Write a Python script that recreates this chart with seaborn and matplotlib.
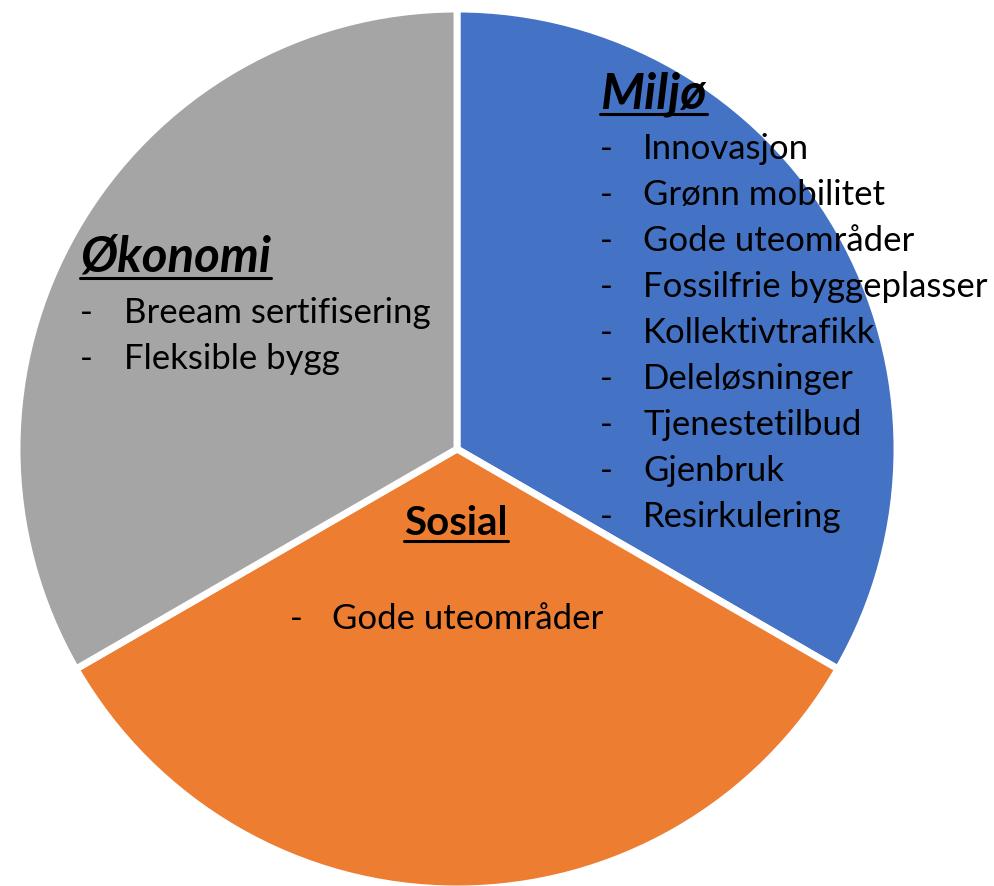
import matplotlib
matplotlib.use("Agg")
import matplotlib.pyplot as plt
import seaborn as sns
from matplotlib.lines import Line2D

sns.set_style("white")
plt.rcParams['font.family'] = ['Lato', 'DejaVu Sans']
plt.rcParams['text.color'] = 'black'

categories = ['Miljø', 'Sosial', 'Økonomi']
shares = [1, 1, 1]
colors = ['#4472C4', '#ED7D31', '#A5A5A5']

miljo_items = ['Innovasjon', 'Grønn mobilitet', 'Gode uteområder',
               'Fossilfrie byggeplasser', 'Kollektivtrafikk', 'Deleløsninger',
               'Tjenestetilbud', 'Gjenbruk', 'Resirkulering']
sosial_items = ['Gode uteområder']
okonomi_items = ['Breeam sertifisering', 'Fleksible bygg']

W, H = 995, 887
fig = plt.figure(figsize=(W / 100, H / 100), dpi=100)
ax = fig.add_axes([0, 0, 1, 1])

ax.pie(shares, colors=colors, startangle=90, counterclock=False,
       center=(457, H - 450), radius=440,
       wedgeprops=dict(edgecolor='white', linewidth=5))
ax.set_xlim(0, W)
ax.set_ylim(0, H)
ax.set_aspect('equal')
ax.axis('off')

item_fs = 25
step = 46


def heading(x, py, txt, fs, italic=True):
    return ax.text(x, H - py, txt, fontsize=fs, fontweight='bold',
                   fontstyle='italic' if italic else 'normal',
                   ha='left', va='baseline', color='black')


def items(xdash, xtext, py0, lst):
    for i, it in enumerate(lst):
        y = H - (py0 + i * step)
        ax.text(xdash, y, '-', fontsize=item_fs, ha='left', va='baseline', color='black')
        ax.text(xtext, y, it, fontsize=item_fs, ha='left', va='baseline', color='black')


heads = [heading(600, 108, 'Miljø', 36),
         heading(80, 272, 'Økonomi', 35.5),
         heading(404, 535, 'Sosial', 29, italic=False)]

items(600, 643, 159, miljo_items)
items(80, 124, 323, okonomi_items)
items(290, 332, 629, sosial_items)

# underline the headings
fig.canvas.draw()
r = fig.canvas.get_renderer()
for t in heads:
    bb = t.get_window_extent(renderer=r)
    _, by = t.get_transform().transform(t.get_position())
    yl = by - 7
    fig.add_artist(Line2D([bb.x0, bb.x1], [yl, yl], transform=None,
                          color='black', linewidth=2.2))

fig.savefig('out.png', dpi=100)
